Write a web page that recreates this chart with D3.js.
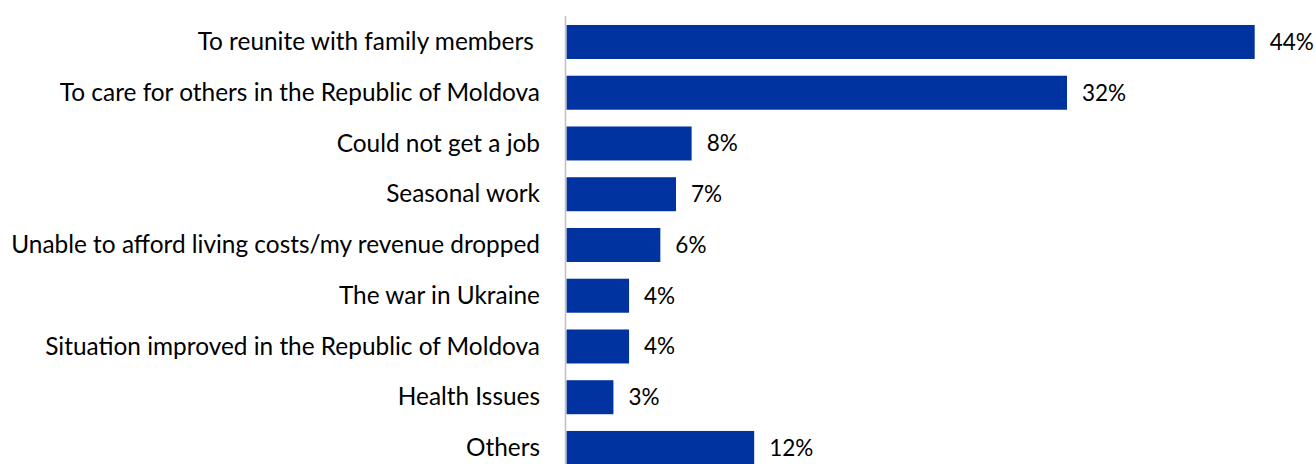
<!DOCTYPE html>
<html>
<head>
<meta charset="utf-8">
<script src="https://cdn.jsdelivr.net/npm/d3@7"></script>
<style>
  html, body { margin: 0; padding: 0; background: #fff; }
  svg { display: block; }
  text { font-family: "Gill Sans", "Gill Sans MT", Lato, sans-serif; fill: #000; }
</style>
</head>
<body>
<svg id="chart" width="1316" height="464"></svg>
<script>
// Reasons for returning to the Republic of Moldova (% of respondents)
const categories = [
  "To reunite with family members ",
  "To care for others in the Republic of Moldova",
  "Could not get a job",
  "Seasonal work",
  "Unable to afford living costs/my revenue dropped",
  "The war in Ukraine",
  "Situation improved in the Republic of Moldova",
  "Health Issues",
  "Others"
];
const values = [44, 32, 8, 7, 6, 4, 4, 3, 12];
const valueLabels = ["44%", "32%", "8%", "7%", "6%", "4%", "4%", "3%", "12%"];

const svg = d3.select("#chart");
const x0 = 566.5;
const x = d3.scaleLinear().domain([0, 44]).range([x0, 1254.7]);
const y = d3.scaleBand()
  .domain(categories)
  .range([16.6, 16.6 + 50.75 * categories.length])
  .paddingInner(0.33)
  .paddingOuter(0.165);

// bars
svg.append("g").selectAll("rect")
  .data(values)
  .join("rect")
  .attr("x", x(0))
  .attr("y", (d, i) => y(categories[i]))
  .attr("width", d => x(d) - x(0))
  .attr("height", y.bandwidth())
  .attr("fill", "#0033a0");

// vertical category axis line
svg.append("line")
  .attr("x1", 565.5).attr("x2", 565.5)
  .attr("y1", 16).attr("y2", 464)
  .attr("stroke", "#bfbfbf")
  .attr("stroke-width", 1.5);

// category labels
svg.append("g").selectAll("text")
  .data(categories)
  .join("text")
  .attr("x", 540)
  .attr("y", d => y(d) + y.bandwidth() / 2)
  .attr("dy", "0.33em")
  .attr("text-anchor", "end")
  .attr("font-size", 24.4)
  .style("white-space", "pre")
  .text(d => d);

// value labels
svg.append("g").selectAll("text")
  .data(values)
  .join("text")
  .attr("x", d => x(d) + 15)
  .attr("y", (d, i) => y(categories[i]) + y.bandwidth() / 2)
  .attr("dy", "0.35em")
  .attr("font-size", 22.5)
  .text((d, i) => valueLabels[i]);
</script>
</body>
</html>
